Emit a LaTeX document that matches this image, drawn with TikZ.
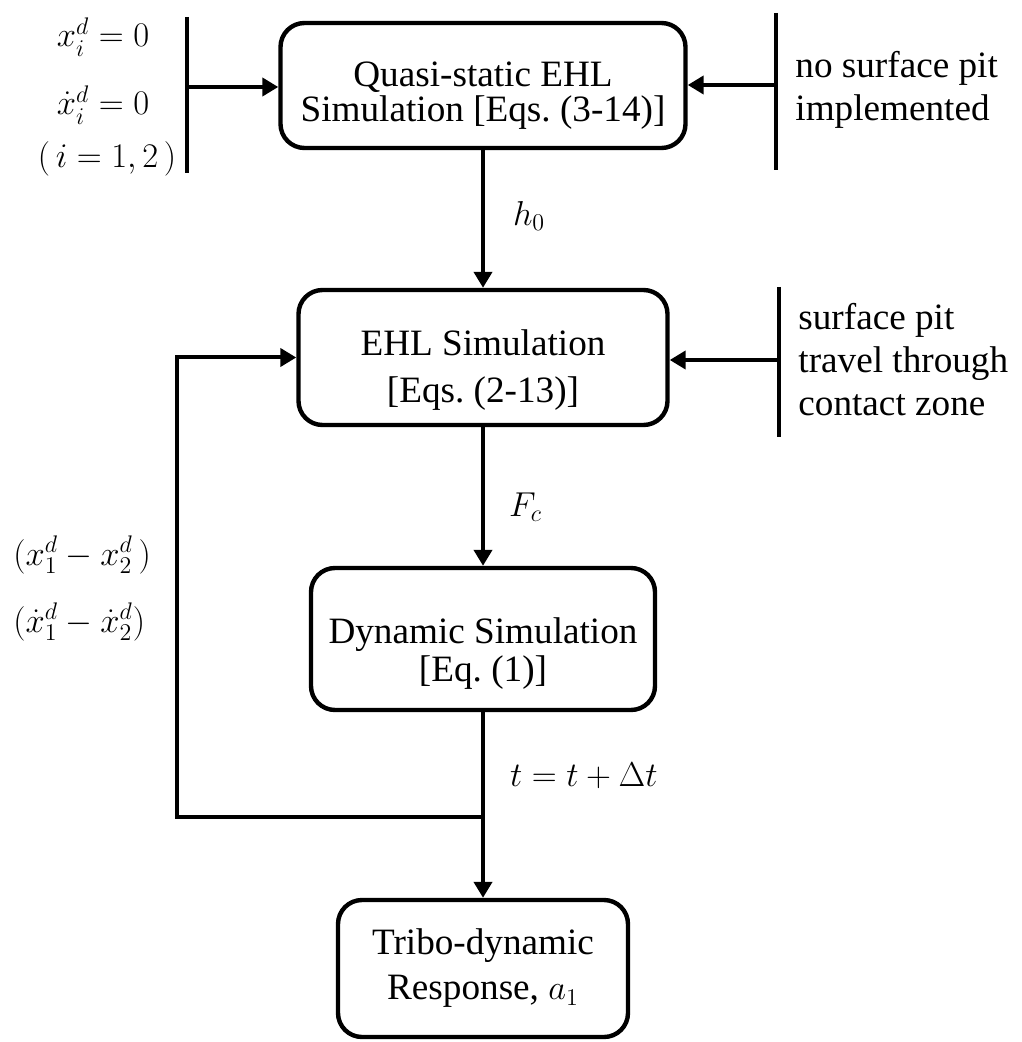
\documentclass[tikz,border=0pt]{standalone}
\usepackage{amsmath,amssymb}
\usepackage{fontspec}
\setmainfont{Liberation Serif}
\usetikzlibrary{arrows.meta,positioning,calc}
\newcommand{\topgap}[1]{\rule{0pt}{#1}}
\tikzset{
  blk/.style={rectangle, draw, line width=2.2pt, rounded corners=12pt, align=center,
              font=\fontsize{18.6}{17.5}\selectfont, inner sep=0pt},
  fl/.style={-{Triangle[length=8pt,width=9pt]}, line width=2pt},
  bar/.style={line width=2.2pt},
  lbl/.style={font=\fontsize{18.6}{21.5}\selectfont, inner sep=0pt},
}

\begin{document}
\begin{tikzpicture}[x=0.5pt, y=-0.5pt]
\useasboundingbox (0,0) rectangle (1021,1042);
% simulation chain
\node[blk, minimum width=202.5pt, minimum height=62.5pt] (quasi) at (483,85.5)
  {\topgap{22pt}Quasi-static EHL\\Simulation [Eqs.~(3-14)]};
\node[blk, minimum width=184.5pt, minimum height=67.5pt] (ehl) at (483,357.5)
  {\topgap{25pt}EHL Simulation\\[6pt][Eqs.~(2-13)]};
\node[blk, minimum width=172pt, minimum height=71pt] (dyn) at (483,639)
  {\topgap{27pt}Dynamic Simulation\\[1.5pt][Eq.~(1)]};
\node[blk, minimum width=145pt, minimum height=68.5pt] (resp) at (483,968.5)
  {Tribo-dynamic\\[5pt]Response,~$a_1$};
% inputs
\node[lbl, anchor=base] (xi) at (103,47) {$x_i^d=0$};
\node[lbl, anchor=base] (xdi) at (103,115) {$\dot{x}_i^d=0$};
\node[lbl, anchor=base] (irng) at (107,168) {$(\,i=1,2\,)$};
\node[lbl, align=left, anchor=west] (nopit) at (795,90) {no surface pit\\implemented};
\node[lbl, align=left, anchor=west] (pit) at (798,360) {surface pit\\travel through\\contact zone};
\node[lbl, anchor=base west] (dx) at (13,565) {$(x_1^d-x_2^d\,)$};
\node[lbl, anchor=base west] (dxd) at (13,632) {$(\dot{x}_1^d-\dot{x}_2^d)$};
\coordinate (lin) at (187,87);
\coordinate (rin) at (776,85);
\coordinate (rin2) at (779,360);
\coordinate (fb) at (483,817);
\coordinate (fbl) at (177,817);
\draw[bar] ($(lin)+(0,-70)$) -- ($(lin)+(0,86)$);
\draw[bar] ($(rin)+(0,-72)$) -- ($(rin)+(0,85)$);
\draw[bar] ($(rin2)+(0,-73)$) -- ($(rin2)+(0,77)$);
\draw[fl] (lin) -- (lin -| quasi.west);
\draw[fl] (rin) -- (rin -| quasi.east);
\draw[fl] (rin2) -- (rin2 -| ehl.east);
% flow
\draw[fl] (quasi) -- node[lbl, pos=0.48, right=14pt] {$h_0$} (ehl);
\draw[fl] (ehl) -- node[lbl, pos=0.58, right=12pt] {$F_c$} (dyn);
\draw[fl] (dyn) -- node[lbl, pos=0.34, right=12.5pt] {$t=t+\Delta t$} (resp);
\draw[fl] (fb) -- (fbl) |- (ehl.west);
\end{tikzpicture}
\end{document}
